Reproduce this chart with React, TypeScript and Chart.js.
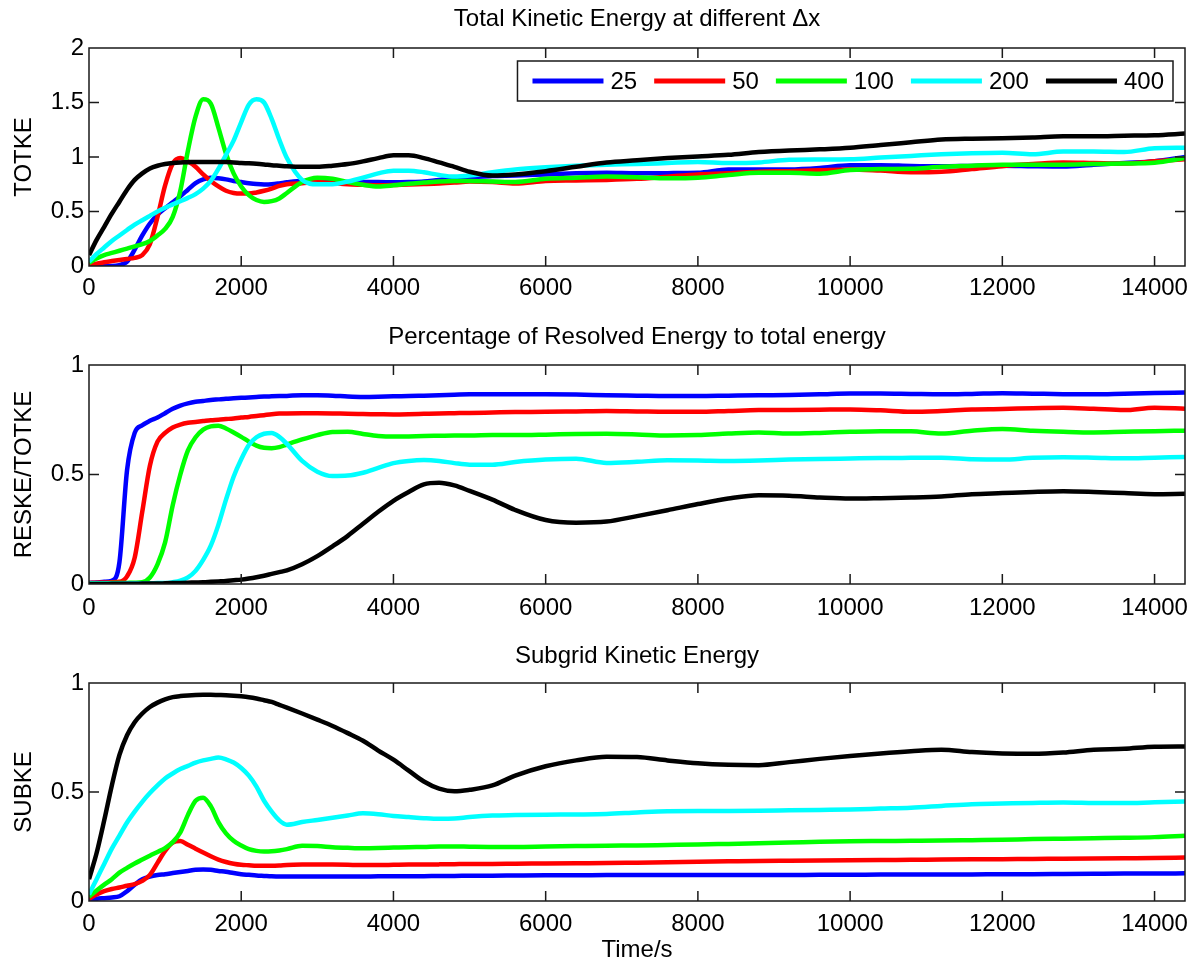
import React, { useEffect, useRef } from 'react';
import { Chart, registerables } from 'chart.js';

Chart.register(...registerables);

// ---------- data ----------
const timeSteps = [
  0, 100, 200, 300, 400, 500, 600, 700, 800, 900,
  1000, 1100, 1200, 1300, 1400, 1500, 1600, 1700, 1800, 1900,
  2000, 2100, 2200, 2300, 2400, 2500, 2600, 2800, 3000, 3200,
  3400, 3600, 3800, 4000, 4200, 4400, 4600, 4800, 5000, 5300,
  5600, 6000, 6400, 6800, 7200, 7600, 8000, 8400, 8800, 9200,
  9600, 10000, 10400, 10800, 11200, 11600, 12000, 12400, 12800, 13200,
  13600, 14000, 14400,
];

const seriesLabels = ['25', '50', '100', '200', '400'];
const seriesColors = ['#0000ff', '#ff0000', '#00ff00', '#00ffff', '#000000'];

const panelTitles = [
  'Total Kinetic Energy at different \u0394x',
  'Percentage of Resolved Energy to total energy',
  'Subgrid Kinetic Energy',
];
const yAxisTitles = ['TOTKE', 'RESKE/TOTKE', 'SUBKE'];
const xAxisTitle = 'Time/s';
const xTickValues = [0, 2000, 4000, 6000, 8000, 10000, 12000, 14000];
const xMax = 14400;
const yMaxes = [2, 1, 1];
const yTickValuesTop = [0, 0.5, 1, 1.5, 2];
const yTickValuesUnit = [0, 0.5, 1];

// Panel 1: TOTKE
const totke25 = [
  0, 0, 0, 0, 0.008, 0.04, 0.15, 0.28, 0.39, 0.47,
  0.53, 0.585, 0.64, 0.70, 0.76, 0.795, 0.81, 0.805, 0.795, 0.78,
  0.77, 0.76, 0.752, 0.748, 0.75, 0.758, 0.768, 0.78, 0.778, 0.77,
  0.768, 0.77, 0.77, 0.768, 0.77, 0.775, 0.79, 0.80, 0.815, 0.825,
  0.83, 0.84, 0.85, 0.855, 0.85, 0.852, 0.855, 0.885, 0.885, 0.886,
  0.9, 0.925, 0.925, 0.918, 0.915, 0.918, 0.92, 0.915, 0.912, 0.93,
  0.945, 0.96, 1.0,
];
const totke50 = [
  0.005, 0.02, 0.035, 0.045, 0.055, 0.065, 0.075, 0.10, 0.20, 0.45,
  0.74, 0.94, 0.99, 0.96, 0.91, 0.84, 0.78, 0.73, 0.69, 0.67,
  0.665, 0.665, 0.675, 0.69, 0.71, 0.735, 0.75, 0.76, 0.77, 0.76,
  0.75, 0.745, 0.74, 0.742, 0.748, 0.752, 0.757, 0.765, 0.775, 0.77,
  0.757, 0.78, 0.785, 0.79, 0.80, 0.82, 0.84, 0.85, 0.865, 0.87,
  0.878, 0.886, 0.875, 0.86, 0.865, 0.89, 0.916, 0.935, 0.95, 0.945,
  0.94, 0.96, 0.98,
];
const totke100 = [
  0.03, 0.07, 0.10, 0.12, 0.14, 0.16, 0.18, 0.20, 0.23, 0.28,
  0.34, 0.45, 0.69, 1.06, 1.37, 1.53, 1.49, 1.27, 1.03, 0.85,
  0.73, 0.65, 0.605, 0.587, 0.595, 0.62, 0.67, 0.77, 0.81, 0.80,
  0.77, 0.745, 0.73, 0.74, 0.755, 0.765, 0.775, 0.78, 0.78, 0.775,
  0.77, 0.80, 0.81, 0.82, 0.815, 0.805, 0.81, 0.835, 0.855, 0.855,
  0.846, 0.88, 0.89, 0.892, 0.91, 0.92, 0.93, 0.93, 0.93, 0.935,
  0.94, 0.947, 0.99,
];
const totke200 = [
  0.04, 0.11, 0.17, 0.23, 0.28, 0.33, 0.38, 0.42, 0.46, 0.50,
  0.535, 0.565, 0.595, 0.625, 0.66, 0.71, 0.78, 0.89, 1.02, 1.15,
  1.32, 1.48, 1.53, 1.50, 1.35, 1.16, 0.99, 0.79, 0.75, 0.75,
  0.775, 0.81, 0.85, 0.875, 0.875, 0.86, 0.835, 0.82, 0.83, 0.86,
  0.885, 0.905, 0.92, 0.93, 0.935, 0.945, 0.955, 0.945, 0.95, 0.975,
  0.978, 0.98, 0.995, 1.01, 1.025, 1.035, 1.04, 1.025, 1.05, 1.05,
  1.045, 1.08, 1.085,
];
const totke400 = [
  0.1, 0.24, 0.36, 0.48, 0.59, 0.70, 0.79, 0.85, 0.895, 0.92,
  0.935, 0.945, 0.95, 0.952, 0.955, 0.955, 0.955, 0.955, 0.953, 0.95,
  0.945, 0.942, 0.938, 0.932, 0.925, 0.92, 0.915, 0.91, 0.91, 0.92,
  0.935, 0.96, 0.99, 1.015, 1.015, 0.99, 0.95, 0.91, 0.865, 0.83,
  0.84, 0.87, 0.91, 0.95, 0.97, 0.99, 1.005, 1.02, 1.045, 1.06,
  1.07, 1.084, 1.11, 1.135, 1.16, 1.168, 1.172, 1.18, 1.19, 1.19,
  1.195, 1.2, 1.215,
];

// Panel 2: RESKE/TOTKE
const reske25 = [
  0.005, 0.007, 0.01, 0.015, 0.1, 0.52, 0.69, 0.725, 0.745, 0.76,
  0.78, 0.80, 0.815, 0.825, 0.832, 0.836, 0.84, 0.843, 0.846, 0.848,
  0.85, 0.852, 0.854, 0.856, 0.857, 0.858, 0.859, 0.862, 0.862, 0.86,
  0.856, 0.854, 0.855, 0.857, 0.858, 0.86, 0.862, 0.864, 0.866, 0.866,
  0.866, 0.866, 0.865, 0.862, 0.86, 0.858, 0.858, 0.86, 0.862, 0.863,
  0.866, 0.87, 0.87, 0.868, 0.866, 0.868, 0.871, 0.869, 0.867, 0.866,
  0.869, 0.872, 0.874,
];
const reske50 = [
  0.005, 0.006, 0.007, 0.008, 0.01, 0.035, 0.12, 0.33, 0.54, 0.65,
  0.69, 0.715, 0.728, 0.736, 0.74, 0.744, 0.748, 0.75, 0.753, 0.756,
  0.76, 0.763, 0.767, 0.771, 0.775, 0.778, 0.779, 0.78, 0.78, 0.779,
  0.777, 0.776, 0.775, 0.774, 0.775, 0.777, 0.779, 0.78, 0.781, 0.783,
  0.785, 0.786, 0.788, 0.79, 0.788, 0.786, 0.786, 0.79, 0.794, 0.795,
  0.796, 0.797, 0.793, 0.786, 0.79, 0.797, 0.799, 0.803, 0.805, 0.8,
  0.794, 0.805, 0.80,
];
const reske100 = [
  0.003, 0.003, 0.003, 0.004, 0.004, 0.005, 0.006, 0.008, 0.03, 0.09,
  0.19, 0.36, 0.50, 0.61, 0.67, 0.705, 0.72, 0.723, 0.71, 0.692,
  0.672, 0.65, 0.632, 0.622, 0.62, 0.625, 0.637, 0.66, 0.68, 0.694,
  0.695, 0.685, 0.676, 0.673, 0.674, 0.676, 0.677, 0.678, 0.678, 0.68,
  0.68, 0.682, 0.685, 0.686, 0.683, 0.678, 0.68, 0.687, 0.692, 0.687,
  0.69, 0.695, 0.698, 0.697, 0.687, 0.7, 0.708, 0.70, 0.695, 0.692,
  0.695, 0.698, 0.70,
];
const reske200 = [
  0.002, 0.002, 0.002, 0.002, 0.002, 0.003, 0.003, 0.003, 0.003, 0.004,
  0.004, 0.008, 0.015, 0.03, 0.06, 0.11, 0.175, 0.27, 0.385, 0.49,
  0.57, 0.635, 0.67, 0.686, 0.69, 0.672, 0.64, 0.562, 0.513, 0.493,
  0.495, 0.508, 0.53, 0.552, 0.562, 0.566, 0.562, 0.552, 0.545, 0.545,
  0.557, 0.568, 0.572, 0.553, 0.558, 0.565, 0.564, 0.562, 0.564, 0.568,
  0.571, 0.573, 0.575, 0.576, 0.577, 0.57, 0.568, 0.576, 0.579, 0.577,
  0.574, 0.577, 0.58,
];
const reske400 = [
  0, 0, 0, 0.001, 0.001, 0.001, 0.001, 0.002, 0.002, 0.002,
  0.003, 0.004, 0.005, 0.006, 0.007, 0.008, 0.01, 0.012, 0.014, 0.017,
  0.02, 0.025, 0.031, 0.038, 0.046, 0.054, 0.062, 0.09, 0.127, 0.172,
  0.22, 0.275, 0.33, 0.38, 0.42, 0.455, 0.462, 0.45, 0.425, 0.385,
  0.338, 0.292, 0.28, 0.285, 0.31, 0.337, 0.365, 0.39, 0.405, 0.403,
  0.395, 0.39, 0.392, 0.395, 0.4, 0.41, 0.415, 0.42, 0.423, 0.42,
  0.415, 0.41, 0.412,
];

// Panel 3: SUBKE
const subke25 = [
  0.005, 0.01, 0.013, 0.016, 0.022, 0.045, 0.075, 0.1, 0.112, 0.119,
  0.123, 0.128, 0.133, 0.138, 0.143, 0.145, 0.143, 0.138, 0.134, 0.128,
  0.123, 0.12, 0.117, 0.115, 0.113, 0.112, 0.112, 0.112, 0.112, 0.112,
  0.112, 0.112, 0.113, 0.113, 0.114, 0.114, 0.115, 0.115, 0.116, 0.116,
  0.117, 0.118, 0.118, 0.119, 0.119, 0.119, 0.119, 0.119, 0.119, 0.119,
  0.12, 0.12, 0.121, 0.121, 0.122, 0.122, 0.123, 0.123, 0.124, 0.125,
  0.126, 0.126, 0.127,
];
const subke50 = [
  0.01, 0.03, 0.045, 0.055, 0.062, 0.07, 0.077, 0.092, 0.12, 0.175,
  0.23, 0.268, 0.275, 0.258, 0.24, 0.222, 0.205, 0.19, 0.179, 0.171,
  0.166, 0.164, 0.162, 0.162, 0.162, 0.163, 0.165, 0.167, 0.168, 0.167,
  0.166, 0.165, 0.165, 0.166, 0.167, 0.167, 0.168, 0.169, 0.17, 0.17,
  0.171, 0.172, 0.173, 0.174, 0.176, 0.178, 0.18, 0.182, 0.184, 0.185,
  0.186, 0.187, 0.188, 0.189, 0.19, 0.191, 0.192, 0.193, 0.194, 0.195,
  0.196, 0.197, 0.199,
];
const subke100 = [
  0.02, 0.048, 0.075, 0.1, 0.13, 0.152, 0.172, 0.19, 0.208, 0.225,
  0.243, 0.27, 0.315, 0.395, 0.46, 0.474, 0.435, 0.362, 0.31, 0.276,
  0.255, 0.238, 0.23, 0.227, 0.228, 0.232, 0.238, 0.253, 0.252, 0.247,
  0.244, 0.242, 0.243, 0.245, 0.247, 0.248, 0.25, 0.25, 0.249, 0.248,
  0.248, 0.25, 0.252, 0.254, 0.255, 0.257, 0.259, 0.262, 0.265, 0.268,
  0.272, 0.274, 0.275, 0.276, 0.277, 0.279, 0.281, 0.284, 0.286, 0.288,
  0.29, 0.293, 0.299,
];
const subke200 = [
  0.03, 0.1, 0.17, 0.24, 0.3, 0.36, 0.41, 0.455, 0.495, 0.53,
  0.562, 0.585, 0.605, 0.62, 0.635, 0.645, 0.652, 0.658, 0.65, 0.635,
  0.61, 0.575, 0.525, 0.46, 0.41, 0.37, 0.35, 0.362, 0.372, 0.382,
  0.392, 0.402, 0.398, 0.39, 0.385, 0.38, 0.377, 0.378, 0.385, 0.392,
  0.394, 0.396, 0.397, 0.399, 0.406, 0.412, 0.413, 0.413, 0.414, 0.416,
  0.418, 0.42, 0.424, 0.428, 0.436, 0.444, 0.447, 0.45, 0.452, 0.45,
  0.449, 0.453, 0.456,
];
const subke400 = [
  0.1, 0.22, 0.37, 0.53, 0.67, 0.76, 0.82, 0.86, 0.89, 0.91,
  0.925, 0.935, 0.94, 0.943, 0.945, 0.946, 0.946, 0.945, 0.944, 0.942,
  0.939, 0.935, 0.929, 0.921, 0.913, 0.9, 0.887, 0.86, 0.832, 0.803,
  0.77, 0.735, 0.69, 0.648, 0.598, 0.548, 0.515, 0.503, 0.51, 0.53,
  0.575, 0.618, 0.645, 0.662, 0.66, 0.645, 0.632, 0.625, 0.623, 0.637,
  0.652, 0.665, 0.677, 0.687, 0.694, 0.683, 0.677, 0.675, 0.681, 0.694,
  0.698, 0.708, 0.709,
];

// ---------- styling / layout ----------
const FONT = '"Liberation Sans", Arial, Helvetica, sans-serif';
const FONT_SIZE = 24;
const AXIS_COLOR = '#1a1a1a';

type PanelSpec = {
  title: string;
  yTitle: string;
  yMax: number;
  yTicks: number[];
  series: number[][];
  top: number;
  height: number;
  titlePadTop: number;
  titlePadBottom: number;
  xAxisHeight: number;
  xTickPad: number;
  showXTitle: boolean;
  showLegend: boolean;
};

const panels: PanelSpec[] = [
  {
    title: panelTitles[0], yTitle: yAxisTitles[0], yMax: yMaxes[0], yTicks: yTickValuesTop,
    series: [totke25, totke50, totke100, totke200, totke400],
    top: 0, height: 320, titlePadTop: 5, titlePadBottom: 14.2,
    xAxisHeight: 54, xTickPad: 8, showXTitle: false, showLegend: true,
  },
  {
    title: panelTitles[1], yTitle: yAxisTitles[1], yMax: yMaxes[1], yTicks: yTickValuesUnit,
    series: [reske25, reske50, reske100, reske200, reske400],
    top: 320, height: 320, titlePadTop: 3, titlePadBottom: 13.2,
    xAxisHeight: 56, xTickPad: 10, showXTitle: false, showLegend: false,
  },
  {
    title: panelTitles[2], yTitle: yAxisTitles[2], yMax: yMaxes[2], yTicks: yTickValuesUnit,
    series: [subke25, subke50, subke100, subke200, subke400],
    top: 640, height: 322, titlePadTop: 2, titlePadBottom: 12.2,
    xAxisHeight: 61, xTickPad: 9, showXTitle: true, showLegend: false,
  },
];

// Box around the plot area with MATLAB-style inward ticks on all sides
const frameTicksPlugin = {
  id: 'frameTicks',
  afterDatasetsDraw(chart: any) {
    const { ctx, chartArea: a, scales } = chart;
    const len = 10;
    ctx.save();
    ctx.strokeStyle = AXIS_COLOR;
    ctx.lineWidth = 1.5;
    ctx.beginPath();
    scales.x.ticks.forEach((t: any) => {
      const px = scales.x.getPixelForValue(t.value);
      if (px <= a.left + 1 || px >= a.right - 1) return;
      ctx.moveTo(px, a.bottom);
      ctx.lineTo(px, a.bottom - len);
      ctx.moveTo(px, a.top);
      ctx.lineTo(px, a.top + len);
    });
    scales.y.ticks.forEach((t: any) => {
      const py = scales.y.getPixelForValue(t.value);
      if (py <= a.top + 1 || py >= a.bottom - 1) return;
      ctx.moveTo(a.left, py);
      ctx.lineTo(a.left + len, py);
      ctx.moveTo(a.right, py);
      ctx.lineTo(a.right - len, py);
    });
    ctx.stroke();
    ctx.strokeRect(a.left, a.top, a.right - a.left, a.bottom - a.top);
    ctx.restore();
  },
};

// Horizontal boxed legend inside the plot area (top right)
const insideLegendPlugin = {
  id: 'insideLegend',
  afterDraw(chart: any, _args: any, opts: any) {
    if (!opts || !opts.show) return;
    const { ctx, chartArea: a } = chart;
    const lineLen = 71, gapLT = 7, gapTL = 17, padL = 15, padR = 9, h = 40;
    ctx.save();
    ctx.font = `${FONT_SIZE}px ${FONT}`;
    const items = chart.data.datasets.map((d: any) => ({
      label: d.label as string,
      color: d.borderColor as string,
      w: ctx.measureText(d.label).width,
    }));
    let total = padL + padR;
    items.forEach((it: any, i: number) => {
      total += lineLen + gapLT + it.w + (i < items.length - 1 ? gapTL : 0);
    });
    const right = a.right - 12;
    const left = right - total;
    const top = a.top + 13;
    ctx.fillStyle = '#ffffff';
    ctx.fillRect(left, top, total, h);
    ctx.strokeStyle = AXIS_COLOR;
    ctx.lineWidth = 1.5;
    ctx.strokeRect(left, top, total, h);
    const cy = top + h / 2;
    let x = left + padL;
    ctx.textBaseline = 'middle';
    ctx.textAlign = 'left';
    items.forEach((it: any) => {
      ctx.strokeStyle = it.color;
      ctx.lineWidth = 5;
      ctx.lineCap = 'butt';
      ctx.beginPath();
      ctx.moveTo(x, cy);
      ctx.lineTo(x + lineLen, cy);
      ctx.stroke();
      x += lineLen + gapLT;
      ctx.fillStyle = '#000000';
      ctx.fillText(it.label, x, cy + 1);
      x += it.w + gapTL;
    });
    ctx.restore();
  },
};

function makeConfig(p: PanelSpec): any {
  const tickFont = { family: FONT, size: FONT_SIZE };
  return {
    type: 'line',
    data: {
      datasets: p.series.map((vals, i) => ({
        label: seriesLabels[i],
        data: timeSteps.map((t, k) => ({ x: t, y: vals[k] })),
        borderColor: seriesColors[i],
        backgroundColor: seriesColors[i],
        borderWidth: 4.5,
        pointRadius: 0,
        pointHoverRadius: 0,
        cubicInterpolationMode: 'monotone',
        fill: false,
        order: seriesLabels.length - 1 - i,
      })),
    },
    options: {
      animation: false,
      responsive: false,
      devicePixelRatio: 1,
      events: [],
      layout: { padding: { left: 0, right: 3, top: 0, bottom: 0 } },
      scales: {
        x: {
          type: 'linear',
          min: 0,
          max: xMax,
          afterBuildTicks: (s: any) => { s.ticks = xTickValues.map((v) => ({ value: v })); },
          afterFit: (s: any) => {
            s.height = p.xAxisHeight;
            s.paddingLeft = 0;
            s.paddingRight = 0;
          },
          grid: { display: false, drawTicks: false },
          border: { display: false },
          ticks: {
            autoSkip: false,
            maxRotation: 0,
            minRotation: 0,
            padding: p.xTickPad,
            color: '#000000',
            font: tickFont,
            callback: (v: any) => String(v),
          },
          title: {
            display: p.showXTitle,
            text: xAxisTitle,
            color: '#000000',
            font: { family: FONT, size: FONT_SIZE, lineHeight: 1 },
            padding: { top: 0, bottom: 0 },
          },
        },
        y: {
          min: 0,
          max: p.yMax,
          afterBuildTicks: (s: any) => { s.ticks = p.yTicks.map((v) => ({ value: v })); },
          afterFit: (s: any) => { s.width = 89; },
          grid: { display: false, drawTicks: false },
          border: { display: false },
          ticks: {
            autoSkip: false,
            padding: 5,
            color: '#000000',
            font: tickFont,
            callback: (v: any) => String(v),
          },
          title: {
            display: true,
            text: p.yTitle,
            color: '#000000',
            font: { family: FONT, size: FONT_SIZE },
            padding: { top: 9.5, bottom: 0 },
          },
        },
      },
      plugins: {
        legend: { display: false },
        tooltip: { enabled: false },
        title: {
          display: true,
          fullSize: false,
          text: p.title,
          color: '#000000',
          font: { family: FONT, size: FONT_SIZE, weight: 'normal' },
          padding: { top: p.titlePadTop, bottom: p.titlePadBottom },
        },
        insideLegend: { show: p.showLegend },
      },
    },
    plugins: [frameTicksPlugin, insideLegendPlugin],
  };
}

function Panel({ spec }: { spec: PanelSpec }) {
  const ref = useRef<HTMLCanvasElement | null>(null);
  useEffect(() => {
    if (!ref.current) return;
    const chart = new Chart(ref.current, makeConfig(spec));
    return () => chart.destroy();
  }, [spec]);
  return (
    <canvas
      ref={ref}
      width={1188}
      height={spec.height}
      style={{ position: 'absolute', left: 0, top: spec.top, width: 1188, height: spec.height }}
    />
  );
}

export default function App() {
  return (
    <div style={{ position: 'absolute', left: 0, top: 0, width: 1188, height: 962, background: '#ffffff', overflow: 'hidden' }}>
      {panels.map((p, i) => (
        <Panel key={i} spec={p} />
      ))}
    </div>
  );
}
